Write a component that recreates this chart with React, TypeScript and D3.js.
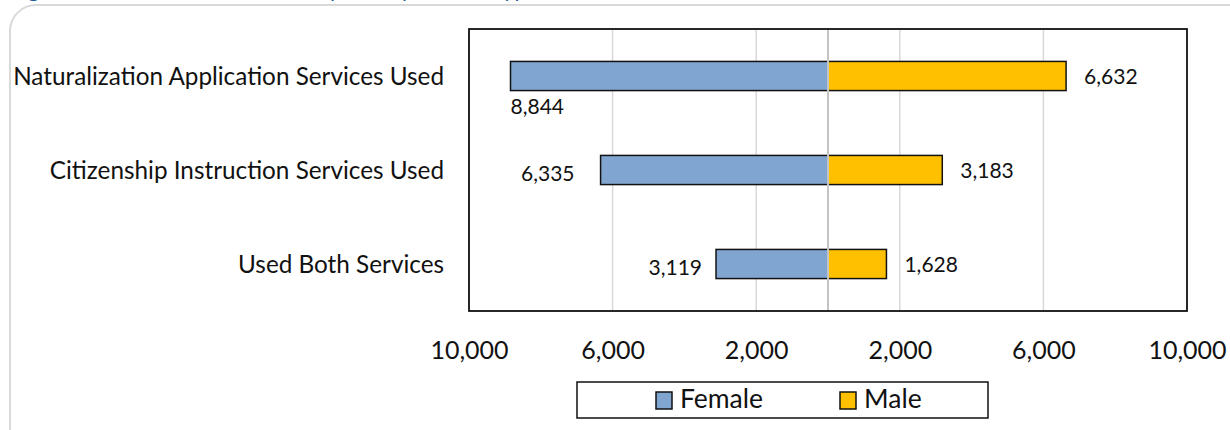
import React, { useRef, useEffect } from "react";
import * as d3 from "d3";

// values
const categories = [
  "Naturalization Application Services Used",
  "Citizenship Instruction Services Used",
  "Used Both Services",
];
const female = [8844, 6335, 3119];
const male = [6632, 3183, 1628];
const tickValues = [-10000, -6000, -2000, 2000, 6000, 10000];
const gridValues = [-6000, -2000, 2000, 6000];
const seriesNames = ["Female", "Male"];

const title = "Figure 3. Female and Male Participants by Service Type";

const BLUE = "#7fa5d0";
const GOLD = "#ffc000";
const FONT = "Lato, 'Noto Sans', sans-serif";

export default function App() {
  const svgRef = useRef<SVGSVGElement>(null);

  useEffect(() => {
    const svg = d3.select(svgRef.current);
    svg.selectAll("*").remove();

    const left = 469, right = 1187, top = 29, bottom = 311;

    const x = d3.scaleLinear().domain([-10000, 10000]).range([left, right]);
    const y = d3
      .scaleBand()
      .domain(categories)
      .range([top, bottom])
      .paddingInner(0.69)
      .paddingOuter(0.345);

    // card behind the chart
    svg
      .append("rect")
      .attr("x", 10)
      .attr("y", 5)
      .attr("width", 1260)
      .attr("height", 460)
      .attr("rx", 26)
      .attr("fill", "#fff")
      .attr("stroke", "#d9d9d9")
      .attr("stroke-width", 2);

    // title, cropped off at the top like in the source
    svg
      .append("text")
      .attr("x", 10)
      .attr("y", -3)
      .attr("fill", "#1f5c99")
      .style("font", `22px ${FONT}`)
      .text(title);

    // grid
    svg
      .selectAll(".grid")
      .data(gridValues)
      .join("line")
      .attr("x1", (d) => x(d))
      .attr("x2", (d) => x(d))
      .attr("y1", top)
      .attr("y2", bottom)
      .attr("stroke", "#d9d9d9")
      .attr("stroke-width", 1.5);

    // bars
    const rows = categories.map((c, i) => ({ c, f: female[i], m: male[i], i }));

    svg
      .selectAll(".fbar")
      .data(rows)
      .join("rect")
      .attr("x", (d) => x(-d.f))
      .attr("y", (d) => y(d.c)!)
      .attr("width", (d) => x(0) - x(-d.f))
      .attr("height", y.bandwidth())
      .attr("fill", BLUE)
      .attr("stroke", "#111")
      .attr("stroke-width", 1.5);

    svg
      .selectAll(".mbar")
      .data(rows)
      .join("rect")
      .attr("x", x(0))
      .attr("y", (d) => y(d.c)!)
      .attr("width", (d) => x(d.m) - x(0))
      .attr("height", y.bandwidth())
      .attr("fill", GOLD)
      .attr("stroke", "#111")
      .attr("stroke-width", 1.5);

    // zero line over the bars
    svg
      .append("line")
      .attr("x1", x(0))
      .attr("x2", x(0))
      .attr("y1", top)
      .attr("y2", bottom)
      .attr("stroke", "#c4c4c4")
      .attr("stroke-width", 2);

    // plot frame
    svg
      .append("rect")
      .attr("x", left)
      .attr("y", top)
      .attr("width", right - left)
      .attr("height", bottom - top)
      .attr("fill", "none")
      .attr("stroke", "#111")
      .attr("stroke-width", 1.8);

    const fmt = d3.format(",");

    // category labels
    svg
      .selectAll(".cat")
      .data(rows)
      .join("text")
      .attr("x", left - 25)
      .attr("y", (d) => y(d.c)! + y.bandwidth() / 2)
      .attr("dy", "0.35em")
      .attr("text-anchor", "end")
      .attr("fill", "#111")
      .style("font", `24.3px ${FONT}`)
      .text((d) => d.c);

    // male labels
    svg
      .selectAll(".mlab")
      .data(rows)
      .join("text")
      .attr("x", (d) => x(d.m) + 18)
      .attr("y", (d) => y(d.c)! + y.bandwidth() / 2 + 1)
      .attr("dy", "0.35em")
      .attr("fill", "#111")
      .style("font", `21px ${FONT}`)
      .text((d) => fmt(d.m));

    // female labels (first one sits under its bar)
    svg
      .selectAll(".flab")
      .data(rows)
      .join("text")
      .attr("x", (d) => (d.i === 0 ? x(-d.f) : x(-d.f) - (d.i === 1 ? 26 : 14)))
      .attr("y", (d) =>
        d.i === 0 ? y(d.c)! + y.bandwidth() + 16 : y(d.c)! + y.bandwidth() / 2 + 4
      )
      .attr("dy", "0.35em")
      .attr("text-anchor", (d) => (d.i === 0 ? "start" : "end"))
      .attr("fill", "#111")
      .style("font", `21px ${FONT}`)
      .text((d) => fmt(d.f));

    // bottom axis
    const axis = d3
      .axisBottom(x)
      .tickValues(tickValues)
      .tickSize(0)
      .tickPadding(0)
      .tickFormat((d) => fmt(Math.abs(+d)));
    const g = svg.append("g").attr("transform", `translate(0,${bottom + 39})`).call(axis);
    g.select(".domain").remove();
    g.selectAll("text")
      .attr("dy", "0.35em")
      .attr("fill", "#111")
      .style("font", `25px ${FONT}`);

    // legend
    const lg = svg.append("g");
    lg.append("rect")
      .attr("x", 577)
      .attr("y", 382)
      .attr("width", 411)
      .attr("height", 36)
      .attr("fill", "#fff")
      .attr("stroke", "#111")
      .attr("stroke-width", 1.5);
    const items = lg
      .selectAll(".item")
      .data(seriesNames)
      .join("g")
      .attr("transform", (_, i) => `translate(${656 + i * 184},0)`);
    items
      .append("rect")
      .attr("x", 0)
      .attr("y", 392)
      .attr("width", 16)
      .attr("height", 17)
      .attr("fill", (_, i) => (i === 0 ? BLUE : GOLD))
      .attr("stroke", "#111")
      .attr("stroke-width", 1.5);
    items
      .append("text")
      .attr("x", 24)
      .attr("y", 400)
      .attr("dy", "0.32em")
      .attr("fill", "#111")
      .style("font", `26.5px ${FONT}`)
      .text((d) => d);
  }, []);

  return (
    <div style={{ position: "absolute", left: 0, top: 0 }}>
      <svg ref={svgRef} width={1230} height={430} style={{ display: "block" }} />
    </div>
  );
}
